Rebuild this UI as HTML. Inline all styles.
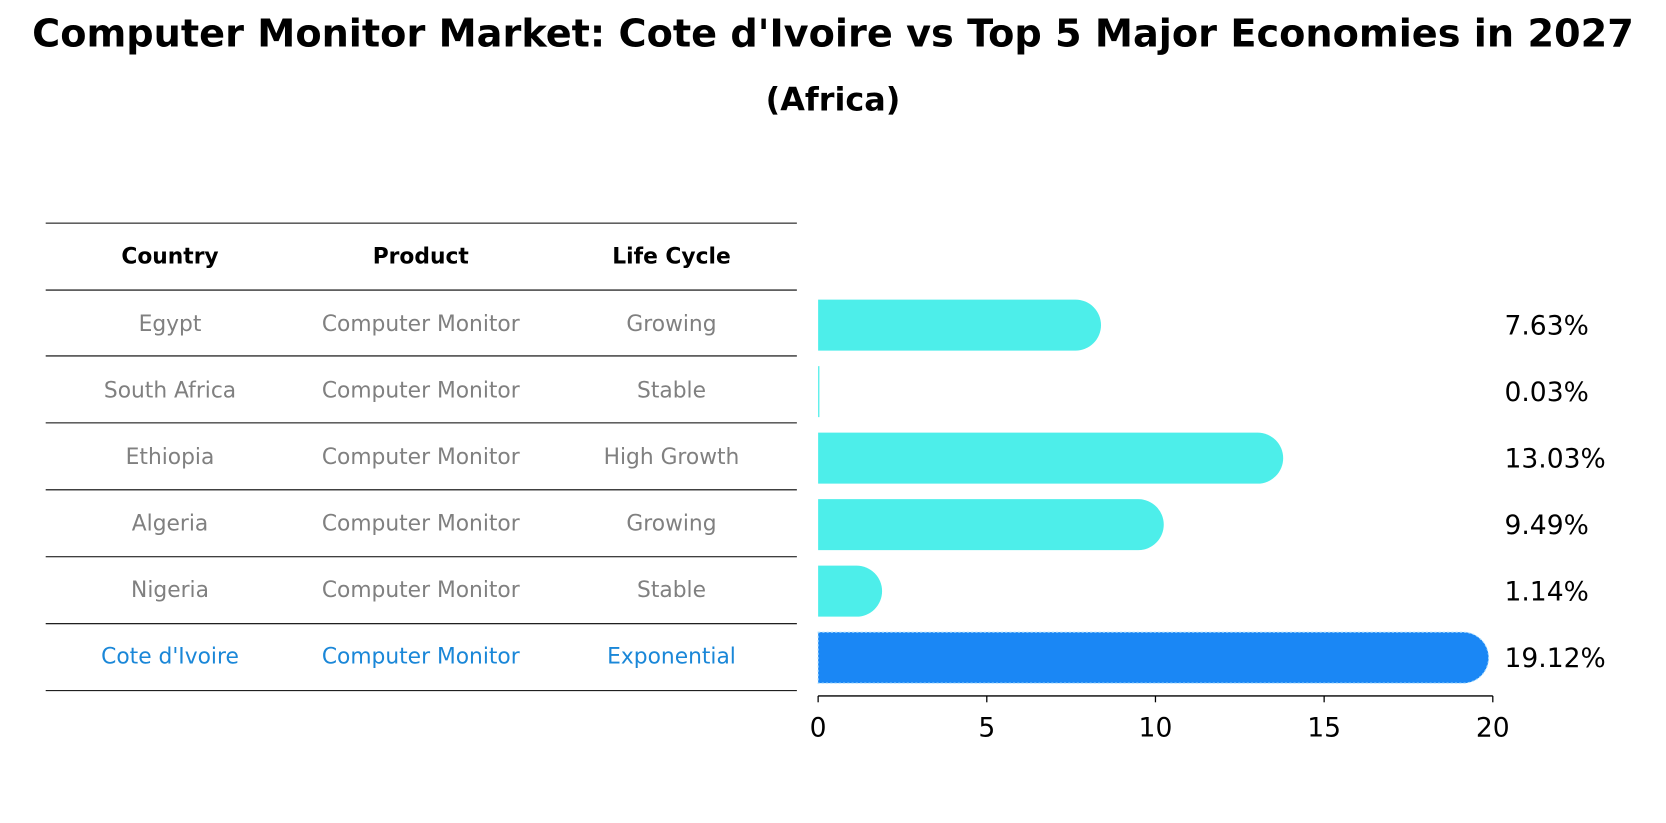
<!DOCTYPE html>
<html><head><meta charset="utf-8"><style>
body{margin:0;background:#fff;font-family:"Liberation Sans","DejaVu Sans",sans-serif}
svg{display:block}
svg text{font-family:"DejaVu Sans","Liberation Sans",sans-serif}
</style></head><body>
<svg id="chart" width="1666" height="823" viewBox="0 0 1568 774.6" xmlns="http://www.w3.org/2000/svg">
<text x="784" y="44" text-anchor="middle" font-size="36" font-weight="bold">Computer Monitor Market: Cote d'Ivoire vs Top 5 Major Economies in 2027</text>
<text x="784" y="104" text-anchor="middle" font-size="30" font-weight="bold">(Africa)</text>
<g id="table"></g>
<g id="bars"></g>
</svg>
<script>
const countries=["Egypt","South Africa","Ethiopia","Algeria","Nigeria","Cote d'Ivoire"];
const products=["Computer Monitor","Computer Monitor","Computer Monitor","Computer Monitor","Computer Monitor","Computer Monitor"];
const lifeCycles=["Growing","Stable","High Growth","Growing","Stable","Exponential"];
const values=[7.63,0.03,13.03,9.49,1.14,19.12];
const ticks=[0,5,10,15,20];
const NS="http://www.w3.org/2000/svg";
function mk(tag,attrs,parent){const e=document.createElementNS(NS,tag);for(const k in attrs)e.setAttribute(k,attrs[k]);parent.appendChild(e);return e;}
const table=document.getElementById('table'),bars=document.getElementById('bars');
const x0=770,x1=1405,xMax=20;
const xs=v=>x0+(v/xMax)*(x1-x0);
const rowY=i=>304.5+i*62.6;
const lineYs=[210,273];
for(let i=0;i<countries.length;i++)lineYs.push(Math.round(335+i*62.9));
lineYs.forEach(y=>{const l=mk('line',{x1:43,x2:750,y1:y,y2:y,stroke:'#000','stroke-width':1},table);

});
const colX=[160,396,632];
["Country","Product","Life Cycle"].forEach((h,j)=>{const t=mk('text',{x:colX[j],y:248,'text-anchor':'middle','font-size':20.5,'font-weight':'bold'},table);t.textContent=h;

});
countries.forEach((c,i)=>{
 const last=i===countries.length-1;
 const col=last?'#1a87d8':'#808080';
 [c,products[i],lifeCycles[i]].forEach((s,j)=>{const t=mk('text',{x:colX[j],y:rowY(i)+7,'text-anchor':'middle','font-size':20.5,fill:col},table);t.textContent=s;
 
 });
 const y=rowY(i)+1.5,h=48,r=24;
 const end=xs(values[i]);
 const fill=last?'#1a87f5':'#4deeea';
 const w=end-x0;
 const d=w>3?`M${x0},${y-h/2} H${end} A${r},${r} 0 0 1 ${end},${y+h/2} H${x0} Z`:`M${x0},${y-h/2}h${Math.max(w,1.2)}v${h}h${-Math.max(w,1.2)}z`;
 const p=mk('path',{d:d,fill:fill},bars);
 if(last){p.setAttribute('stroke','#aee0ff');p.setAttribute('stroke-dasharray','2 2');p.setAttribute('stroke-width','1');}
 
 
 const vt=mk('text',{x:1416,y:y+9,'font-size':25},bars);vt.textContent=values[i].toFixed(2)+'%';
 
 
});
const ax=mk('line',{x1:x0,x2:x1,y1:655,y2:655,stroke:'#000','stroke-width':1.2},bars);


ticks.forEach(t=>{const x=xs(t);
 const tl=mk('line',{x1:x,x2:x,y1:655,y2:661,stroke:'#000','stroke-width':1.2},bars);
 
 
 const tt=mk('text',{x:x,y:693,'text-anchor':'middle','font-size':25},bars);tt.textContent=t;
 
 });
</script>
</body></html>
